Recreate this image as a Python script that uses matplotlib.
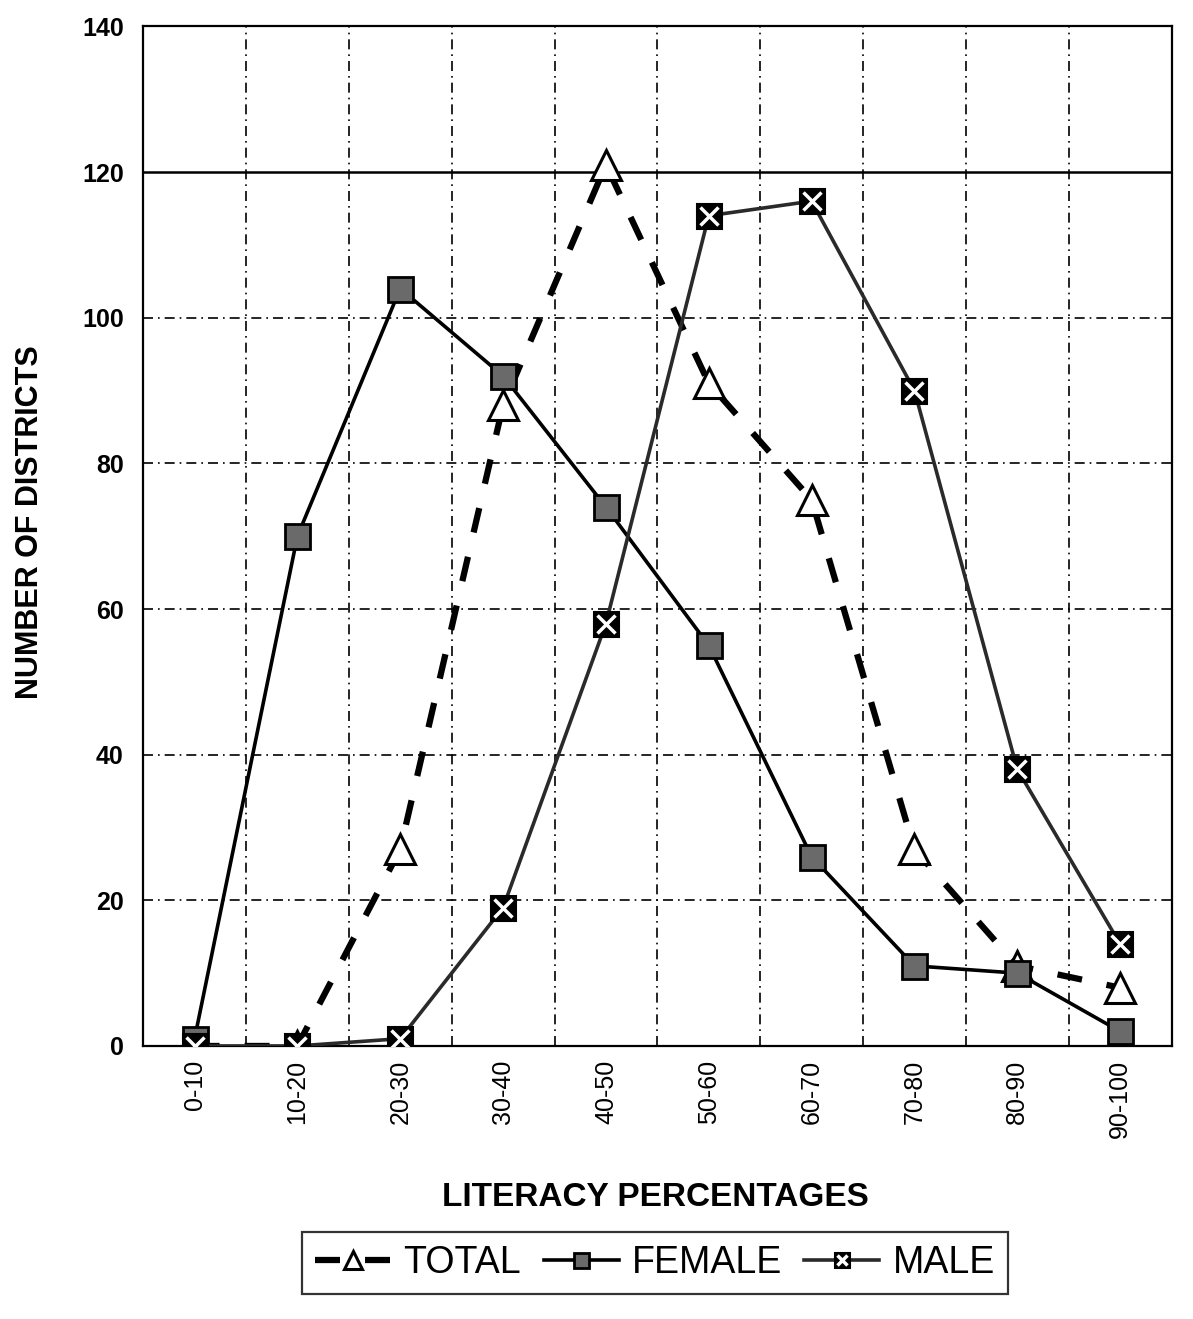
import numpy as np
import matplotlib
matplotlib.use("Agg")
import matplotlib.pyplot as plt
from matplotlib.legend_handler import HandlerTuple

# literacy classes and number of districts
classes = ["0-10", "10-20", "20-30", "30-40", "40-50",
           "50-60", "60-70", "70-80", "80-90", "90-100"]
total = [0, 0, 27, 88, 121, 91, 75, 27, 11, 8]
female = [1, 70, 104, 92, 74, 55, 26, 11, 10, 2]
male = [0, 0, 1, 19, 58, 114, 116, 90, 38, 14]
yticks = [0, 20, 40, 60, 80, 100, 120, 140]

plt.rcParams['font.family'] = ['Liberation Sans', 'DejaVu Sans']

fig = plt.figure(figsize=(11.93, 13.19), dpi=100)
ax = fig.add_axes([0.12, 0.207, 0.862, 0.773])

x = np.arange(len(classes))

# gridlines: vertical between classes, horizontal every 20
for gx in np.arange(0.5, len(classes) - 1, 1.0):
    ax.axvline(gx, color='black', lw=1.2, ls=(0, (6, 3, 1, 3)), zorder=1)
for gy in yticks[1:-1]:
    if gy == 120:
        ax.axhline(gy, color='black', lw=1.8, zorder=1)
    else:
        ax.axhline(gy, color='black', lw=1.2, ls=(0, (6, 3, 1, 3)), zorder=1)

lt, = ax.plot(x, total, color='black', lw=4.5, ls=(0, (4, 4)),
              marker='^', ms=22, mfc='white', mec='black', mew=2.2, zorder=3)
lf, = ax.plot(x, female, color='black', lw=2.6,
              marker='s', ms=18, mfc='#6a6a6a', mec='black', mew=2, zorder=4)
lm, = ax.plot(x, male, color='#2a2a2a', lw=2.6,
              marker='s', ms=18, mfc='black', mec='black', mew=1.5, zorder=4)
lmx, = ax.plot(x, male, ls='none', marker='x', ms=13, mec='white', mew=2.5, zorder=5)

ax.set_xlim(-0.5, len(classes) - 0.5)
ax.set_ylim(0, 140)
ax.set_yticks(yticks)
ax.set_yticklabels([str(v) for v in yticks], fontsize=18, fontweight='bold')
ax.set_xticks(x)
ax.set_xticklabels(classes, rotation=90, fontsize=18)
ax.tick_params(axis='y', length=0, pad=14)
ax.tick_params(axis='x', length=0, pad=10)
for s in ax.spines.values():
    s.set_color('black')
    s.set_linewidth(1.6)

fig.text(655 / 1193, 1 - 1197 / 1319, "LITERACY PERCENTAGES",
         ha='center', va='center', fontsize=24, fontweight='bold')
fig.text(30 / 1193, 1 - 522 / 1319, "NUMBER OF DISTRICTS",
         ha='center', va='center', rotation=90, fontsize=22, fontweight='bold')

leg = fig.legend([lt, lf, (lm, lmx)], ["TOTAL", "FEMALE", "MALE"],
                 handler_map={tuple: HandlerTuple(ndivide=1)},
                 loc='center', bbox_to_anchor=(655 / 1193, 1 - 1263 / 1319),
                 ncol=3, fontsize=27, frameon=True, fancybox=False,
                 edgecolor='black', handlelength=2.0, handletextpad=0.35,
                 columnspacing=0.6, borderpad=0.35, markerscale=0.6)
leg.get_frame().set_linewidth(1.6)

plt.savefig("out.png", dpi=100)
